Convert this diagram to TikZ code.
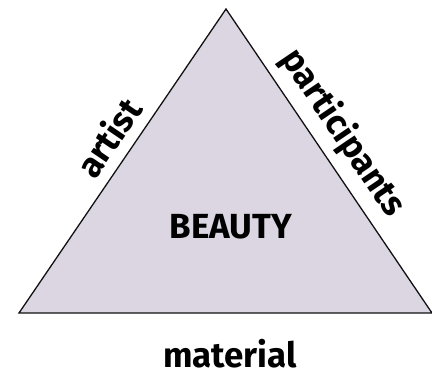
\documentclass[tikz,border=0pt]{standalone}
\usepackage{fontspec}
\setmainfont{Fira Sans}
\definecolor{beautyfill}{HTML}{DCD6E2}
\definecolor{darkline}{HTML}{111111}
\tikzset{
  tri/.style={draw=darkline, fill=beautyfill, line width=1.3pt, line join=miter},
  word/.style={font=\fontsize{35}{40}\selectfont\bfseries, inner sep=0pt}
}
\begin{document}
\begin{tikzpicture}[x=1bp, y=-1bp]
\useasboundingbox (0,0) rectangle (432,371);

\coordinate (apex) at (226,9);
\coordinate (baseleft) at (19,313);
\coordinate (baseright) at (432,313);
\draw[tri] (baseleft) -- (apex) -- (baseright) -- cycle;

\node[word, anchor=base] (beauty) at (231,238) {BEAUTY};
\node[word, anchor=base] (material) at (230,367) {material};
\node[word, rotate=55.7] (artist) at (108,137) {artist};
\node[word, rotate=-55.9] (participants) at (343,133) {participants};

\end{tikzpicture}
\end{document}
